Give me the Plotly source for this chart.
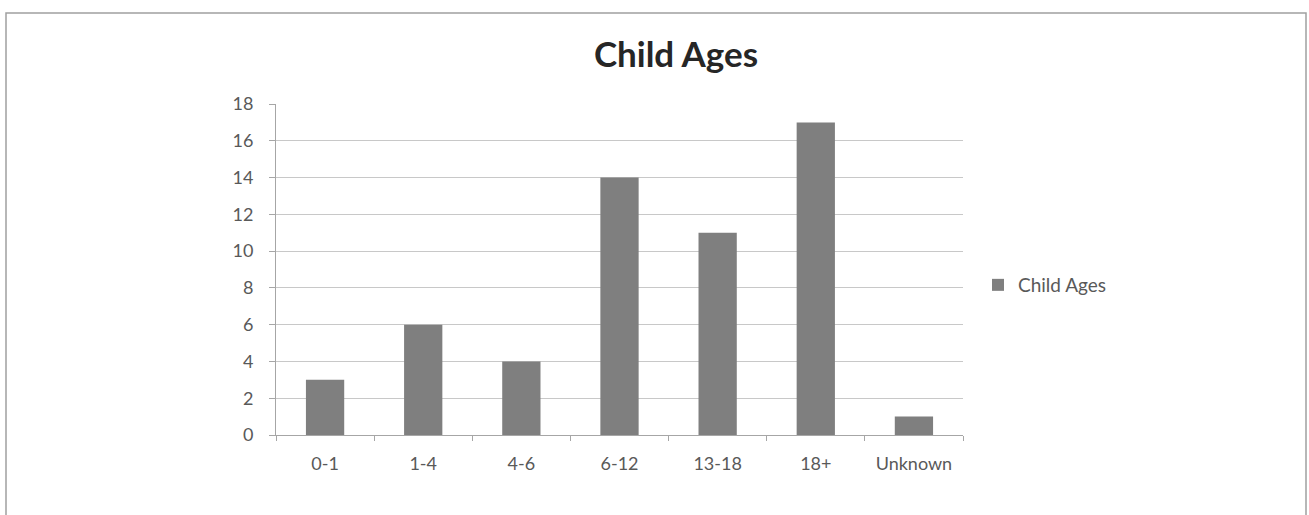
import plotly.graph_objects as go

# Number of children in each age bracket
age_groups = ["0-1", "1-4", "4-6", "6-12", "13-18", "18+", "Unknown"]
child_counts = [3, 6, 4, 14, 11, 17, 1]
y_ticks = [0, 2, 4, 6, 8, 10, 12, 14, 16, 18]

W, H = 1309, 515
L, R, T, B = 276, 346, 104, 80
pw, ph = W - L - R, H - T - B


def px_x(x):
    return (x - L) / pw


def px_y(y):
    return (H - B - y) / ph


fig = go.Figure()
fig.add_trace(go.Bar(
    x=age_groups,
    y=child_counts,
    name="Child Ages",
    marker=dict(color="#7f7f7f", line=dict(width=0)),
    showlegend=True,
))

font_family = "Lato, 'Open Sans', sans-serif"

fig.update_layout(
    width=W,
    height=H,
    margin=dict(l=L, r=R, t=T, b=B, autoexpand=False),
    paper_bgcolor="white",
    plot_bgcolor="white",
    bargap=0.61,
    font=dict(family=font_family, color="#595959", size=18),
    title=dict(
        text="<b>Child Ages</b>",
        x=px_x(676) * pw / W + L / W, xanchor="center",
        y=1 - 55 / H, yanchor="middle",
        font=dict(size=35, color="#262626", family=font_family),
    ),
    legend=dict(
        x=px_x(978), xanchor="left",
        y=px_y(285), yanchor="middle",
        font=dict(size=19, color="#595959"),
        itemwidth=30,
        bgcolor="rgba(0,0,0,0)",
    ),
    xaxis=dict(
        type="category",
        showline=True, linecolor="#a6a6a6", linewidth=1,
        ticks="outside", tickson="boundaries", ticklen=5, tickcolor="#a6a6a6",
        showgrid=False,
        tickfont=dict(size=18, color="#595959"),
        ticklabelstandoff=12,
        fixedrange=True,
    ),
    yaxis=dict(
        range=[0, 18],
        tickvals=y_ticks,
        showline=True, linecolor="#a6a6a6", linewidth=1,
        ticks="outside", ticklen=6, tickcolor="#a6a6a6",
        showgrid=True, gridcolor="#c8c8c8", gridwidth=1,
        zeroline=False,
        tickfont=dict(size=18, color="#595959"),
        ticklabelstandoff=12,
        fixedrange=True,
    ),
    shapes=[
        dict(
            type="rect", xref="paper", yref="paper",
            x0=px_x(6), x1=px_x(1306), y0=px_y(530), y1=px_y(13),
            line=dict(color="#a0a0a0", width=1.5),
            fillcolor="rgba(0,0,0,0)", layer="below",
        )
    ],
)

fig.write_html("out.html")
